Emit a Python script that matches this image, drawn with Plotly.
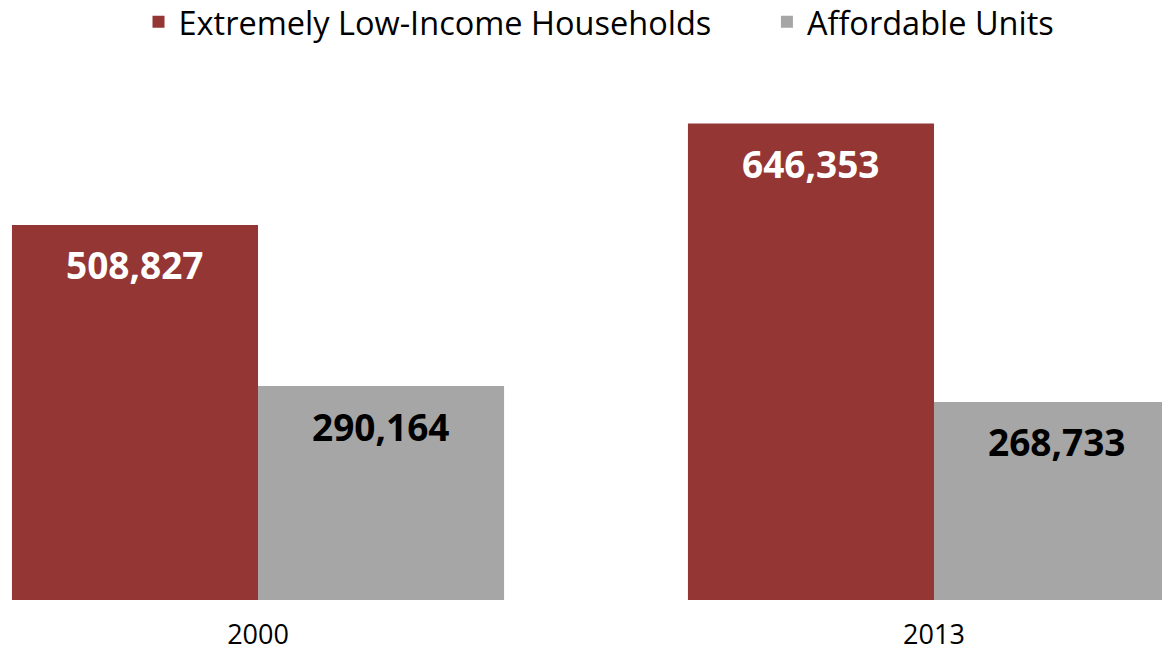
import plotly.graph_objects as go

years = ["2000", "2013"]
households = [508827, 646353]
units = [290164, 268733]
series_names = ["Extremely Low-Income Households", "Affordable Units"]

RED = "#943634"
GRAY = "#A6A6A6"
FONT = "Open Sans"

xpos = list(range(len(years)))
bw = 0.364
NBSP = "\u00a0"

fig = go.Figure()
fig.add_trace(go.Bar(
    x=xpos, y=households, name=series_names[0] + NBSP * 6, width=bw, offset=-bw,
    marker=dict(color=RED, line=dict(width=0)),
))
fig.add_trace(go.Bar(
    x=xpos, y=units, name=series_names[1], width=bw, offset=0,
    marker=dict(color=GRAY, line=dict(width=0)),
))

for vals, off, col in [(households, -bw / 2, "white"), (units, bw / 2, "black")]:
    for xi, v in zip(xpos, vals):
        fig.add_annotation(
            x=xi + off, y=v, text=f"{v:,}", showarrow=False,
            yanchor="middle", xanchor="center", yshift=-40,
            font=dict(family=FONT, size=37, color=col, weight="bold"),
        )

fig.update_layout(
    width=1162, height=653,
    margin=dict(l=0, r=0, t=0, b=53, autoexpand=False),
    paper_bgcolor="white", plot_bgcolor="white",
    font=dict(family=FONT, color="black"),
    showlegend=True,
    legend=dict(orientation="h", x=0.5155, xanchor="center", y=0.963, yanchor="middle",
                font=dict(family=FONT, size=32.5, color="black"),
                itemwidth=30, traceorder="normal",
                bgcolor="rgba(0,0,0,0)"),
    xaxis=dict(range=[-0.3817, 1.3373], tickvals=xpos, ticktext=years,
               showgrid=False, zeroline=False, showline=False, ticks="",
               ticklabelstandoff=16,
               tickfont=dict(family=FONT, size=27, color="black")),
    yaxis=dict(range=[0, 814000], visible=False, fixedrange=True),
)
fig.write_html(
    "out.html",
    config={"displayModeBar": False},
    post_script="document.body.style.margin='0';document.body.style.overflow='hidden';",
)
